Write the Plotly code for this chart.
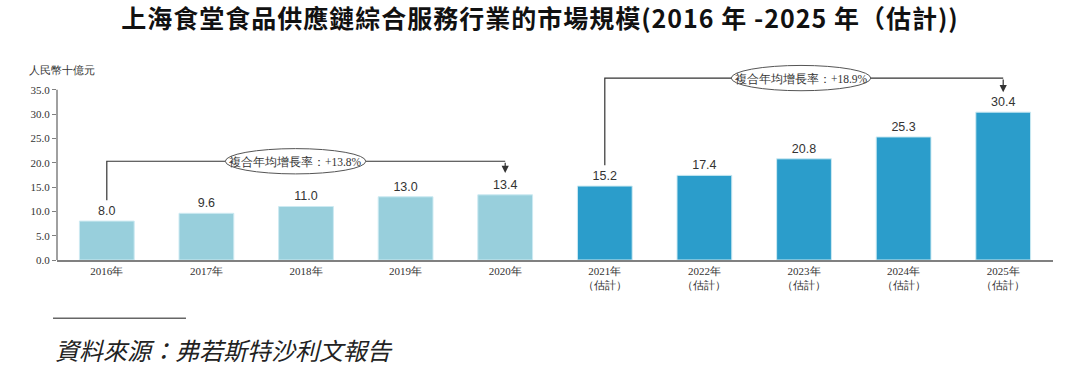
import plotly.graph_objects as go

years = ["2016年", "2017年", "2018年", "2019年", "2020年",
         "2021年<br>（估計）", "2022年<br>（估計）", "2023年<br>（估計）",
         "2024年<br>（估計）", "2025年<br>（估計）"]
values = [8.0, 9.6, 11.0, 13.0, 13.4, 15.2, 17.4, 20.8, 25.3, 30.4]
hist_color = "#98CFDC"
fcst_color = "#2B9DCB"
colors = [hist_color] * 5 + [fcst_color] * 5
cagr_labels = ["複合年均增長率：+13.8%", "複合年均增長率：+18.9%"]
cagr_spans = [(0, 4), (5, 9)]
y_ticks = [0, 5, 10, 15, 20, 25, 30, 35]

SERIF = "Liberation Serif, Times New Roman, serif"
SANS = "Liberation Sans, Arial, sans-serif"
CJK = "Noto Sans CJK TC, Noto Sans CJK SC, sans-serif"

x = list(range(len(years)))

fig = go.Figure()
fig.add_trace(go.Bar(
    x=x, y=values,
    marker=dict(color=colors, line=dict(color="#CDEAF2", width=1)),
    width=0.55,
    text=[f"{v:.1f}" for v in values],
    textposition="outside",
    textfont=dict(family=SANS, size=12.5, color="#333333"),
    cliponaxis=False,
    showlegend=False,
    hoverinfo="skip",
))

shapes = []
annotations = []

# y axis line (only up to the top tick)
shapes.append(dict(type="line", xref="paper", yref="y", x0=0, x1=0,
                   y0=0, y1=y_ticks[-1], line=dict(color="#808080", width=1.5),
                   layer="above"))

# CAGR brackets
bracket_cfg = [
    dict(h=20.3, start_off=4.3, end_off=4.5, ex=(1.19, 2.60)),
    dict(h=37.4, start_off=4.3, end_off=4.1, ex=(6.27, 7.67)),
]
line_style = dict(color="#333333", width=1.2)
for (i0, i1), label, cfg in zip(cagr_spans, cagr_labels, bracket_cfg):
    ys = values[i0] + cfg["start_off"]
    ye = values[i1] + cfg["end_off"]
    h = cfg["h"]
    shapes.append(dict(type="path", xref="x", yref="y",
                       path=f"M {i0},{ys} L {i0},{h} L {i1},{h}",
                       line=line_style))
    annotations.append(dict(x=i1, y=ye, ax=i1, ay=h, xref="x", yref="y",
                            axref="x", ayref="y", showarrow=True, text="",
                            arrowhead=2, arrowsize=1.2, arrowwidth=1.2,
                            arrowcolor="#333333", standoff=0))
    e0, e1 = cfg["ex"]
    shapes.append(dict(type="circle", xref="x", yref="y",
                       x0=e0, x1=e1, y0=h - 2.6, y1=h + 2.6,
                       fillcolor="white", line=dict(color="#555555", width=1),
                       layer="above"))
    annotations.append(dict(x=(e0 + e1) / 2, y=h, xref="x", yref="y",
                            text=label, showarrow=False,
                            font=dict(family=SERIF, size=11.5, color="#333333")))

# y axis unit label
annotations.append(dict(x=-0.030, y=0.964, xref="paper", yref="paper",
                        xanchor="left", yanchor="middle", text="人民幣十億元",
                        showarrow=False,
                        font=dict(family=SERIF, size=11, color="#333333")))

# footnote line and text
shapes.append(dict(type="line", xref="paper", yref="paper",
                   x0=-0.004, x1=0.1295, y0=-0.296, y1=-0.296,
                   line=dict(color="#666666", width=1.5)))
annotations.append(dict(x=-0.004, y=-0.452, xref="paper", yref="paper",
                        xanchor="left", yanchor="middle",
                        text="<i>資料來源：弗若斯特沙利文報告</i>",
                        showarrow=False,
                        font=dict(family=CJK, size=24, color="#222222")))

title_text = ("<b><span style='letter-spacing:1px'>"
              "上海食堂食品供應鏈綜合服務行業的市場規模(2016 年 -2025 年（估計))"
              "</span></b>")

fig.update_layout(
    width=1080, height=372,
    margin=dict(l=57, r=27, t=63, b=112.3, autoexpand=False),
    paper_bgcolor="white", plot_bgcolor="white",
    hovermode=False,
    title=dict(text=title_text, x=0.5, xanchor="center", y=0.948,
               yanchor="middle",
               font=dict(family=CJK, size=25, color="#111111")),
    xaxis=dict(range=[-0.5, 9.5], tickmode="array", tickvals=x,
               ticktext=years, showline=True, linecolor="#808080",
               linewidth=1.5, ticks="", showgrid=False, zeroline=False,
               tickfont=dict(family=SERIF, size=11, color="#333333")),
    yaxis=dict(range=[0, 40.5], tickmode="array", tickvals=y_ticks,
               ticktext=[f"{t:.1f}" for t in y_ticks], showline=False,
               ticks="outside", ticklen=4, tickcolor="#808080",
               showgrid=False, zeroline=False,
               tickfont=dict(family=SERIF, size=11, color="#333333")),
    shapes=shapes,
    annotations=annotations,
)

fig.write_html("out.html",
               config={"displayModeBar": False, "staticPlot": True},
               post_script="document.body.style.margin='0';")
